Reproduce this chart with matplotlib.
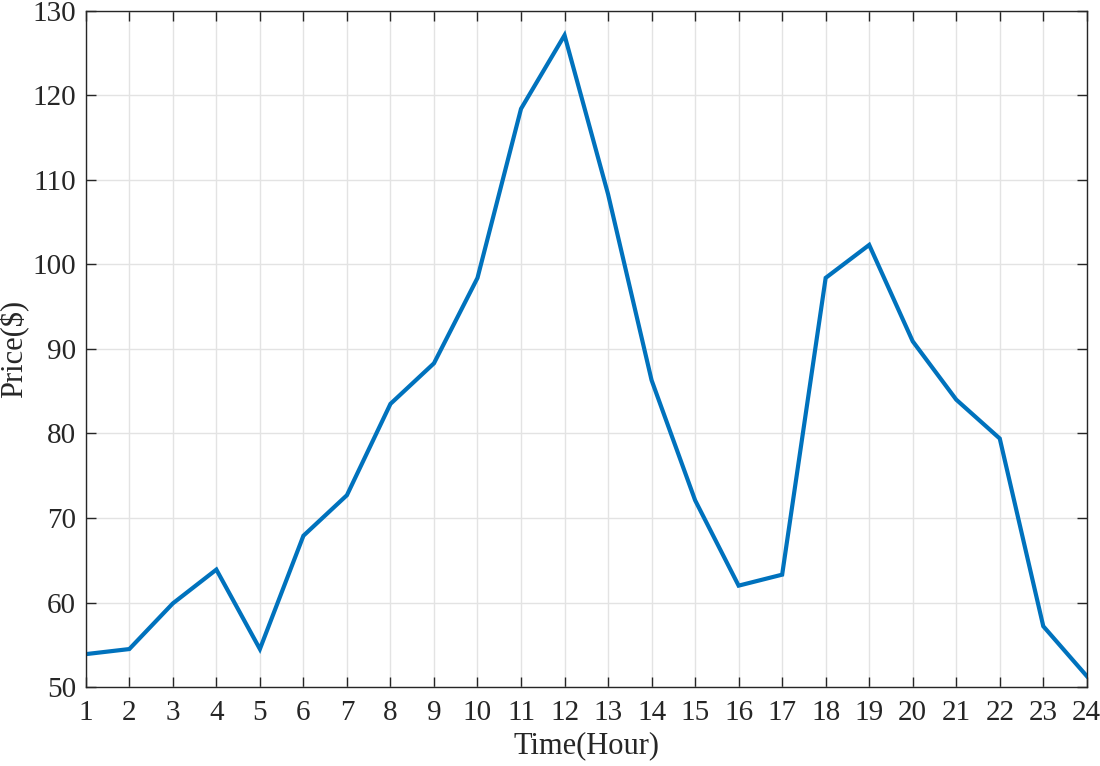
import matplotlib
matplotlib.use("Agg")
import matplotlib.pyplot as plt

plt.rcParams['font.family'] = ['Liberation Serif', 'DejaVu Serif']

hours = list(range(1, 25))
price = [53.9, 54.5, 59.9, 63.9, 54.5, 67.9, 72.7, 83.5, 88.3, 98.4, 118.4, 127.1,
         108.3, 86.3, 72.1, 62.0, 63.3, 98.4, 102.3, 90.9, 84.0, 79.4, 57.2, 51.3]

fig = plt.figure(figsize=(11, 7.66), dpi=100)
ax = fig.add_axes([0.078, 0.103, 0.910, 0.883])

ax.plot(hours, price, color='#0072BD', lw=3.0, solid_joinstyle='miter')

ax.set_xlim(1, 24)
ax.set_ylim(50, 130)
ax.set_xticks(hours)
ax.set_yticks(range(50, 131, 10))
ax.tick_params(direction='in', length=7, width=1, labelsize=21, top=True, right=True,
               color='#262626', labelcolor='#262626')
ax.tick_params(axis='x', pad=9)
ax.tick_params(axis='y', pad=7)
for s in ax.spines.values():
    s.set_color('#262626')
    s.set_linewidth(1)

ax.grid(True, color='#e3e3e3', lw=1)
ax.set_axisbelow(True)

ax.set_xlabel('Time(Hour)', fontsize=22, color='#262626', labelpad=4)
ax.set_ylabel('Price($)', fontsize=22, color='#262626', labelpad=2)

fig.savefig('out.png', dpi=100)
